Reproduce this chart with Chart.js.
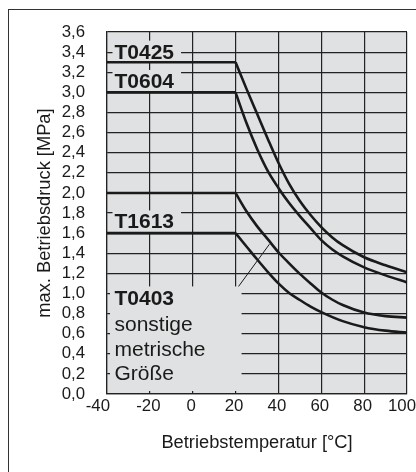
<!DOCTYPE html>
<html><head><meta charset="utf-8">
<script src="https://cdn.jsdelivr.net/npm/chart.js@4/dist/chart.umd.min.js"></script>
<style>
html,body{margin:0;padding:0;background:#fff;width:416px;height:472px;overflow:hidden}
#frame{position:absolute;left:8px;top:9px;width:600px;height:600px;border-left:1px solid #333;border-top:1px solid #333}
#wrap{position:absolute;left:0;top:0;width:416px;height:472px}
</style></head><body>
<div id="frame"></div>
<div id="wrap"><canvas id="c" width="416" height="472"></canvas></div>
<script>
// ---- data ----
const xTickValues = [-40, -20, 0, 20, 40, 60, 80, 100];
const xTickLabels = ['-40', '-20', '0', '20', '40', '60', '80', '100'];
const yTickValues = [0, 0.2, 0.4, 0.6, 0.8, 1.0, 1.2, 1.4, 1.6, 1.8, 2.0, 2.2, 2.4, 2.6, 2.8, 3.0, 3.2, 3.4, 3.6];
const yTickLabels = ['0,0','0,2','0,4','0,6','0,8','1,0','1,2','1,4','1,6','1,8','2,0','2,2','2,4','2,6','2,8','3,0','3,2','3,4','3,6'];

// first two points = constant section (-40..20 °C), rest = derating curve from 20 °C
const tempsT0425 = [-40, 20, 25, 30, 35, 40, 45, 50, 55, 60, 65, 70, 80, 90, 100];
const pressT0425 = [3.3, 3.3, 3.04, 2.79, 2.54, 2.30, 2.09, 1.92, 1.78, 1.66, 1.56, 1.48, 1.36, 1.28, 1.21];

const tempsT0604 = [-40, 20, 25, 30, 35, 40, 45, 50, 55, 60, 65, 70, 80, 90, 100];
const pressT0604 = [3.0, 3.0, 2.70, 2.44, 2.22, 2.05, 1.90, 1.77, 1.65, 1.53, 1.44, 1.37, 1.26, 1.18, 1.11];

const tempsT1613 = [-40, 20, 25, 30, 35, 40, 45, 50, 55, 60, 65, 70, 80, 90, 100];
const pressT1613 = [2.0, 2.0, 1.82, 1.67, 1.54, 1.41, 1.30, 1.195, 1.10, 1.01, 0.94, 0.885, 0.81, 0.775, 0.76];

const tempsT0403 = [-40, 20, 25, 30, 35, 40, 45, 50, 55, 60, 70, 80, 90, 100];
const pressT0403 = [1.6, 1.6, 1.47, 1.34, 1.215, 1.10, 1.005, 0.935, 0.87, 0.815, 0.725, 0.665, 0.63, 0.61];

const leaderTemps = [21.4, 35.8];
const leaderPress = [1.07, 1.49];

const labelTexts = ['T0425', 'T0604', 'T1613', 'T0403', 'sonstige', 'metrische', 'Größe'];

// ---- styles / positions ----
const PLOT_BG = '#e0e1e2';
const GRID = '#222';
const INK = '#1a1a1a';
const FONT = '"Liberation Sans", Arial, Helvetica, sans-serif';
const labelPlaces = [
  {x: -36.5, y: 3.336, bold: true, box: true},
  {x: -36.5, y: 3.044, bold: true, box: true},
  {x: -36.5, y: 1.647, bold: true, box: true},
  {x: -36.5, y: 0.884, bold: true, box: false},
  {x: -36.5, y: 0.631, bold: false, box: false},
  {x: -36.5, y: 0.380, bold: false, box: false},
  {x: -36.5, y: 0.136, bold: false, box: false}
];
const noteBox = {x0: -40, x1: 22.8, y0: 0, y1: 1.07};

function pts(t, p) { return t.map((v, i) => ({x: v, y: p[i]})); }

const lineStyle = {borderColor: INK, borderWidth: 2.6, pointRadius: 0, fill: false, borderJoinStyle: 'round'};

function seriesSets(name, t, p) {
  const all = pts(t, p);
  return [
    Object.assign({label: name + ' flat', data: all.slice(0, 2), tension: 0}, lineStyle),
    Object.assign({label: name, data: all.slice(1), cubicInterpolationMode: 'monotone'}, lineStyle)
  ];
}

const decor = {
  id: 'decor',
  beforeDraw(chart) {
    const {ctx, chartArea: a} = chart;
    ctx.save();
    ctx.fillStyle = PLOT_BG;
    ctx.fillRect(a.left, a.top, a.right - a.left, a.bottom - a.top);
    ctx.restore();
  },
  beforeDatasetsDraw(chart) {
    const {ctx, scales: {x, y}} = chart;
    ctx.save();
    ctx.fillStyle = PLOT_BG;
    const bx0 = x.getPixelForValue(noteBox.x0) + 3, bx1 = x.getPixelForValue(noteBox.x1);
    const by0 = y.getPixelForValue(noteBox.y1), by1 = y.getPixelForValue(noteBox.y0) - 3;
    ctx.fillRect(bx0, by0, bx1 - bx0, by1 - by0);
    ctx.textBaseline = 'alphabetic';
    ctx.textAlign = 'left';
    labelTexts.forEach((t, i) => {
      const p = labelPlaces[i];
      ctx.font = (p.bold ? 'bold ' : '') + '21px ' + FONT;
      const px = x.getPixelForValue(p.x), py = y.getPixelForValue(p.y);
      const w = ctx.measureText(t).width;
      if (p.box) { ctx.fillStyle = PLOT_BG; ctx.fillRect(px - 2, py - 18, w + 9, 22); }
      ctx.fillStyle = INK;
      ctx.fillText(t, px, py);
    });
    ctx.restore();
  },
  afterDraw(chart) {
    const {ctx, scales: {x}, chartArea: a} = chart;
    ctx.save();
    ctx.font = '16.8px ' + FONT;
    ctx.fillStyle = INK;
    ctx.textBaseline = 'middle';
    const ty = a.bottom + 12;
    xTickValues.forEach((v, i) => {
      const t = xTickLabels[i];
      const px = x.getPixelForValue(v);
      const w = ctx.measureText(t).width;
      if (i === 0) { ctx.textAlign = 'right'; ctx.fillText(t, px + 3, ty); }
      else {
        ctx.textAlign = 'center';
        const cx = Math.min(px - 1.5, chart.width - w / 2);
        ctx.fillText(t, cx, ty);
      }
    });
    ctx.restore();
  }
};

new Chart(document.getElementById('c'), {
  type: 'line',
  data: {
    datasets: [
      ...seriesSets('T0425', tempsT0425, pressT0425),
      ...seriesSets('T0604', tempsT0604, pressT0604),
      ...seriesSets('T1613', tempsT1613, pressT1613),
      ...seriesSets('T0403', tempsT0403, pressT0403),
      {label: 'leader', data: pts(leaderTemps, leaderPress), borderColor: INK, borderWidth: 1, pointRadius: 0, tension: 0, fill: false}
    ]
  },
  options: {
    responsive: false,
    animation: false,
    events: [],
    layout: {padding: {top: 24, right: 9, left: 10, bottom: 0}},
    plugins: {legend: {display: false}, tooltip: {enabled: false}},
    scales: {
      x: {
        type: 'linear', min: -40, max: 100,
        afterBuildTicks: s => { s.ticks = xTickValues.map(v => ({value: v})); },
        afterFit: s => { s.height = 78; },
        ticks: {display: false, autoSkip: false},
        grid: {color: GRID, lineWidth: 1.2, drawTicks: false},
        border: {color: GRID, width: 1.2},
        title: {display: true, text: 'Betriebstemperatur [°C]', color: INK,
                font: {size: 18.3, family: FONT}, padding: {top: 0, bottom: 18}}
      },
      y: {
        type: 'linear', min: 0, max: 3.6,
        afterBuildTicks: s => { s.ticks = yTickValues.map(v => ({value: v})); },
        afterFit: s => { s.width = 97; },
        ticks: {padding: 22, color: INK, autoSkip: false, font: {size: 16.8, family: FONT},
                callback: (v, i) => yTickLabels[i]},
        grid: {color: GRID, lineWidth: 1.2, drawTicks: false},
        border: {color: GRID, width: 1.2},
        title: {display: true, text: 'max. Betriebsdruck [MPa]', color: INK,
                font: {size: 18.3, family: FONT}, padding: {top: 24, bottom: 0}}
      }
    }
  },
  plugins: [decor]
});
</script>
</body></html>
